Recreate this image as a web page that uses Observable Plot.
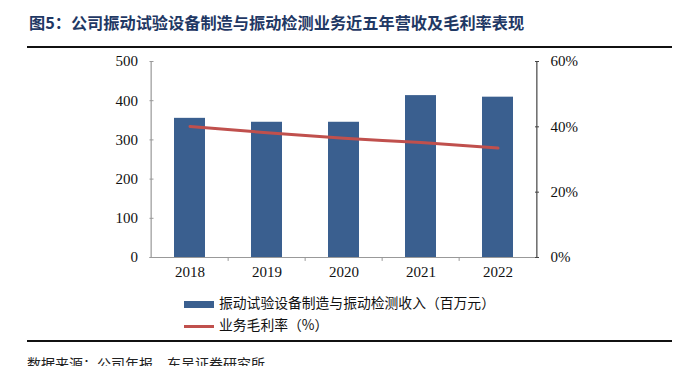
<!DOCTYPE html>
<html>
<head>
<meta charset="utf-8">
<script src="https://cdn.jsdelivr.net/npm/d3@7"></script>
<script src="https://cdn.jsdelivr.net/npm/@observablehq/plot@0.6"></script>
<style>
  html, body { margin: 0; padding: 0; background: #fff; }
  #page { position: relative; width: 680px; height: 366px; overflow: hidden; background: #fff; }
  #title { position: absolute; left: 29px; top: 11px; line-height: 22px; font-family: "Noto Sans CJK SC", sans-serif; font-weight: bold; font-size: 16.2px; color: #1f3864; white-space: nowrap; }
  .hr { position: absolute; left: 27px; width: 645px; height: 2px; background: #111; }
  #chart { position: absolute; left: 0; top: 50px; }
  .leg { position: absolute; left: 184px; line-height: 16px; font-family: "Noto Sans CJK SC", sans-serif; font-size: 13.8px; color: #111; white-space: nowrap; }
  .sw { display: inline-block; width: 30px; vertical-align: middle; margin-right: 5px; }
  #caption { position: absolute; left: 27px; top: 354px; line-height: 18px; font-family: "Noto Sans CJK SC", sans-serif; font-size: 14px; color: #222; white-space: nowrap; }
</style>
</head>
<body>
<div id="page">
  <div id="title">图5：公司振动试验设备制造与振动检测业务近五年营收及毛利率表现</div>
  <div class="hr" style="top:46px"></div>
  <div id="chart"></div>
  <div class="leg" style="top:294px"><span class="sw" style="height:7px;background:#3a5f8f"></span>振动试验设备制造与振动检测收入（百万元）</div>
  <div class="leg" style="top:316px"><span class="sw" style="height:3px;background:#c0504d"></span>业务毛利率（%）</div>
  <div class="hr" style="top:340px"></div>
  <div id="caption">数据来源：公司年报，东吴证券研究所</div>
</div>
<script>
const years = ["2018", "2019", "2020", "2021", "2022"];
const revenue = [355, 345, 345, 413, 409];
const margin = [40.1, 38.2, 36.5, 35.2, 33.5];
const leftTicks = [0, 100, 200, 300, 400, 500];
const rightTicks = [0, 20, 40, 60];
const leftMax = 500, rightMax = 60;

const data = years.map((y, i) => ({year: y, revenue: revenue[i], margin: margin[i]}));
const toLeft = p => p / rightMax * leftMax;

const W = 680, H = 232, mL = 149.5, mR = 142, mT = 11, mB = 25;
const step = (W - mL - mR) / years.length;
const serif = "Liberation Serif, Times New Roman, serif";

const chart = Plot.plot({
  width: W, height: H,
  marginLeft: mL, marginRight: mR, marginTop: mT, marginBottom: mB,
  style: {fontFamily: serif, fontSize: "15px", color: "#111", background: "transparent"},
  x: {domain: years, paddingInner: 0.6, paddingOuter: 0.3, label: null},
  y: {domain: [0, leftMax], label: null},
  marks: [
    Plot.barY(data, {x: "year", y: "revenue", fill: "#3a5f8f"}),
    Plot.ruleY([0], {stroke: "#999", strokeWidth: 1.2}),
    Plot.ruleX([years[0]], {x: d => d, y1: 0, y2: leftMax, dx: -step / 2, stroke: "#999", strokeWidth: 1.2}),
    Plot.ruleX([years[years.length - 1]], {x: d => d, y1: 0, y2: leftMax, dx: step / 2, stroke: "#444", strokeWidth: 1.2}),
    Plot.ruleX(years.slice(1), {x: d => d, y1: 0, y2: -10, dx: -step / 2, stroke: "#999"}),
    Plot.line(data, {x: "year", y: d => toLeft(d.margin), stroke: "#c0504d", strokeWidth: 3, curve: "monotone-x"}),
    Plot.axisX({tickSize: 0, tickPadding: 9, fontSize: 15}),
    Plot.axisY(leftTicks, {anchor: "left", tickSize: 0, tickPadding: 12, fontSize: 15}),
    Plot.axisY(leftTicks, {anchor: "left", tickSize: 4, dx: 4, tickFormat: () => "", stroke: "#999"}),
    Plot.axisY(rightTicks.map(toLeft), {anchor: "right", tickSize: 0, tickPadding: 12, fontSize: 15,
      tickFormat: v => Math.round(v / leftMax * rightMax) + "%"}),
    Plot.axisY(rightTicks.map(toLeft), {anchor: "right", tickSize: 4, dx: -4, tickFormat: () => "", stroke: "#444"})
  ]
});
document.getElementById("chart").appendChild(chart);
</script>
</body>
</html>
